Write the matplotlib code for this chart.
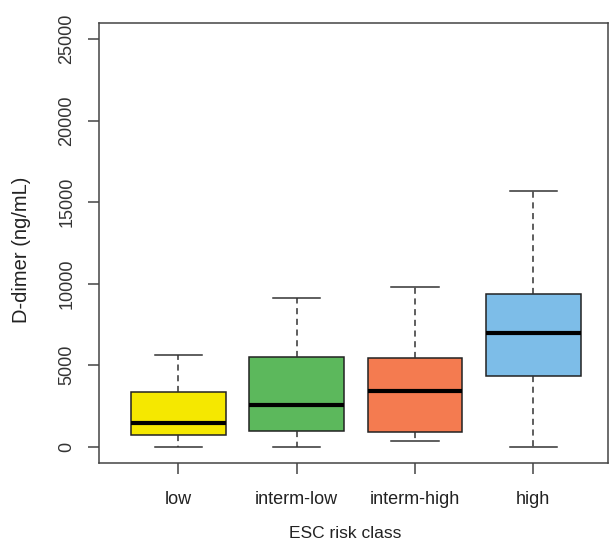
import matplotlib
matplotlib.use("Agg")
import matplotlib.pyplot as plt

plt.rcParams['font.family'] = ['Liberation Sans', 'DejaVu Sans']

# values
classes = ['low', 'interm-low', 'interm-high', 'high']
whisk_low = [0, 0, 370, 0]
q1 = [690, 940, 880, 4310]
medians = [1450, 2530, 3440, 6980]
q3 = [3360, 5480, 5440, 9370]
whisk_high = [5640, 9120, 9800, 15660]
colors = ['#f5e800', '#5cb85c', '#f47b50', '#7dbde8']

stats = []
for i in range(len(classes)):
    stats.append({'label': classes[i], 'whislo': whisk_low[i], 'q1': q1[i],
                  'med': medians[i], 'q3': q3[i], 'whishi': whisk_high[i]})

fig = plt.figure(figsize=(6.09, 5.52), dpi=100)
ax = fig.add_axes([0.1626, 0.1612, 0.8354, 0.7977])

bp = ax.bxp(stats, positions=[1, 2, 3, 4], widths=0.8, showfliers=False,
            patch_artist=True,
            boxprops=dict(linewidth=1.1, edgecolor='#222222'),
            medianprops=dict(color='black', linewidth=3),
            whiskerprops=dict(color='#333333', linewidth=1.1, linestyle=(0, (4, 3))),
            capprops=dict(color='#333333', linewidth=1.1),
            capwidths=0.4)
for patch, c in zip(bp['boxes'], colors):
    patch.set_facecolor(c)

ax.set_xlim(0.33, 4.63)
ax.set_ylim(-1000, 26000)
ax.set_yticks([0, 5000, 10000, 15000, 20000, 25000])
ax.set_yticklabels(['0', '5000', '10000', '15000', '20000', '25000'],
                   rotation=90, va='center', fontsize=13, color='#333333')
ax.set_xticks([1, 2, 3, 4])
ax.set_xticklabels(classes, fontsize=13, color='#222222')
ax.tick_params(axis='both', length=8, width=1.1, color='#444444', pad=9)
ax.tick_params(axis='x', pad=12)
for s in ax.spines.values():
    s.set_linewidth(1.1)
    s.set_color('#444444')

# axis titles placed like R's mtext lines
fig.text(22 / 609, 1 - 250 / 552, 'D-dimer (ng/mL)', rotation=90,
         ha='center', va='center', fontsize=14.5, color='#222222')
fig.text(345 / 609, 1 - 533 / 552, 'ESC risk class',
         ha='center', va='center', fontsize=12.5, color='#222222')

fig.savefig('out.png', dpi=100)
